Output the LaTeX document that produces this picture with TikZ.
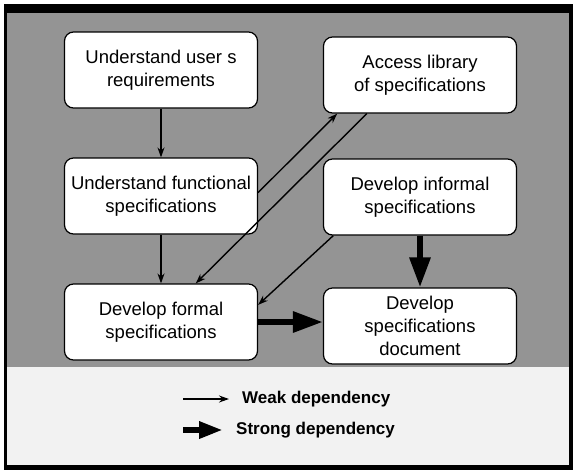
\documentclass[tikz,border=0pt]{standalone}
\usepackage{fontspec}
\setmainfont{Liberation Sans}
\usetikzlibrary{arrows.meta}
\begin{document}
\begin{tikzpicture}[x=1pt,y=-1pt,
		stepbox/.style={draw,line width=1.2pt,fill=white,rounded corners=9pt,minimum width=193pt,minimum height=76pt,align=center,inner sep=2pt,font=\fontsize{18.5}{23}\selectfont},
		weak/.style={line width=1.4pt,-{Stealth[length=10pt,width=7pt]}},
		strong/.style={line width=6pt,-{Triangle[length=30pt,width=20pt]}},
		legend/.style={anchor=west,inner xsep=13pt,inner ysep=0pt,font=\fontsize{17}{20}\selectfont\bfseries}]
	\useasboundingbox (0,0) rectangle (573,475);
	% frame and background
	\fill[black] (4,4) rectangle (573,470);
	\fill[black!42] (7,13) rectangle (569,367);
	\fill[black!5] (7,367) rectangle (569,465);
	% boxes
	\node[stepbox] (users) at (161,70) {Understand user s\\requirements};
	\node[stepbox] (library) at (420,75) {Access library\\of specifications};
	\node[stepbox] (functional) at (161,196) {Understand functional\\specifications};
	\node[stepbox] (informal) at (420,197) {Develop informal\\specifications};
	\node[stepbox] (formal) at (161,322) {Develop formal\\specifications};
	\node[stepbox] (document) at (420,326) {Develop\\specifications\\document};
	% dependencies
	\draw[weak] (users) -- (functional);
	\draw[weak] (functional) -- (formal);
	\draw[weak] (functional.2) -- (library.205);
	\draw[weak] (library.216) -- (formal.48);
	\draw[weak] (informal.204) -- (formal.10);
	\draw[strong] (informal) -- (document);
	\draw[strong] (formal.east) -- (formal.east -| document.west);
	% legend
	\coordinate (weakfrom) at (183,399);
	\coordinate (strongfrom) at (183,430);
	\node[legend] (weaklbl) at (229,399) {Weak dependency};
	\node[legend] (stronglbl) at (223,430) {Strong dependency};
	\draw[weak] (weakfrom) -- (weaklbl.west);
	\draw[strong,-{Triangle[length=24pt,width=16pt]}] (strongfrom) -- (stronglbl.west);
\end{tikzpicture}
\end{document}
